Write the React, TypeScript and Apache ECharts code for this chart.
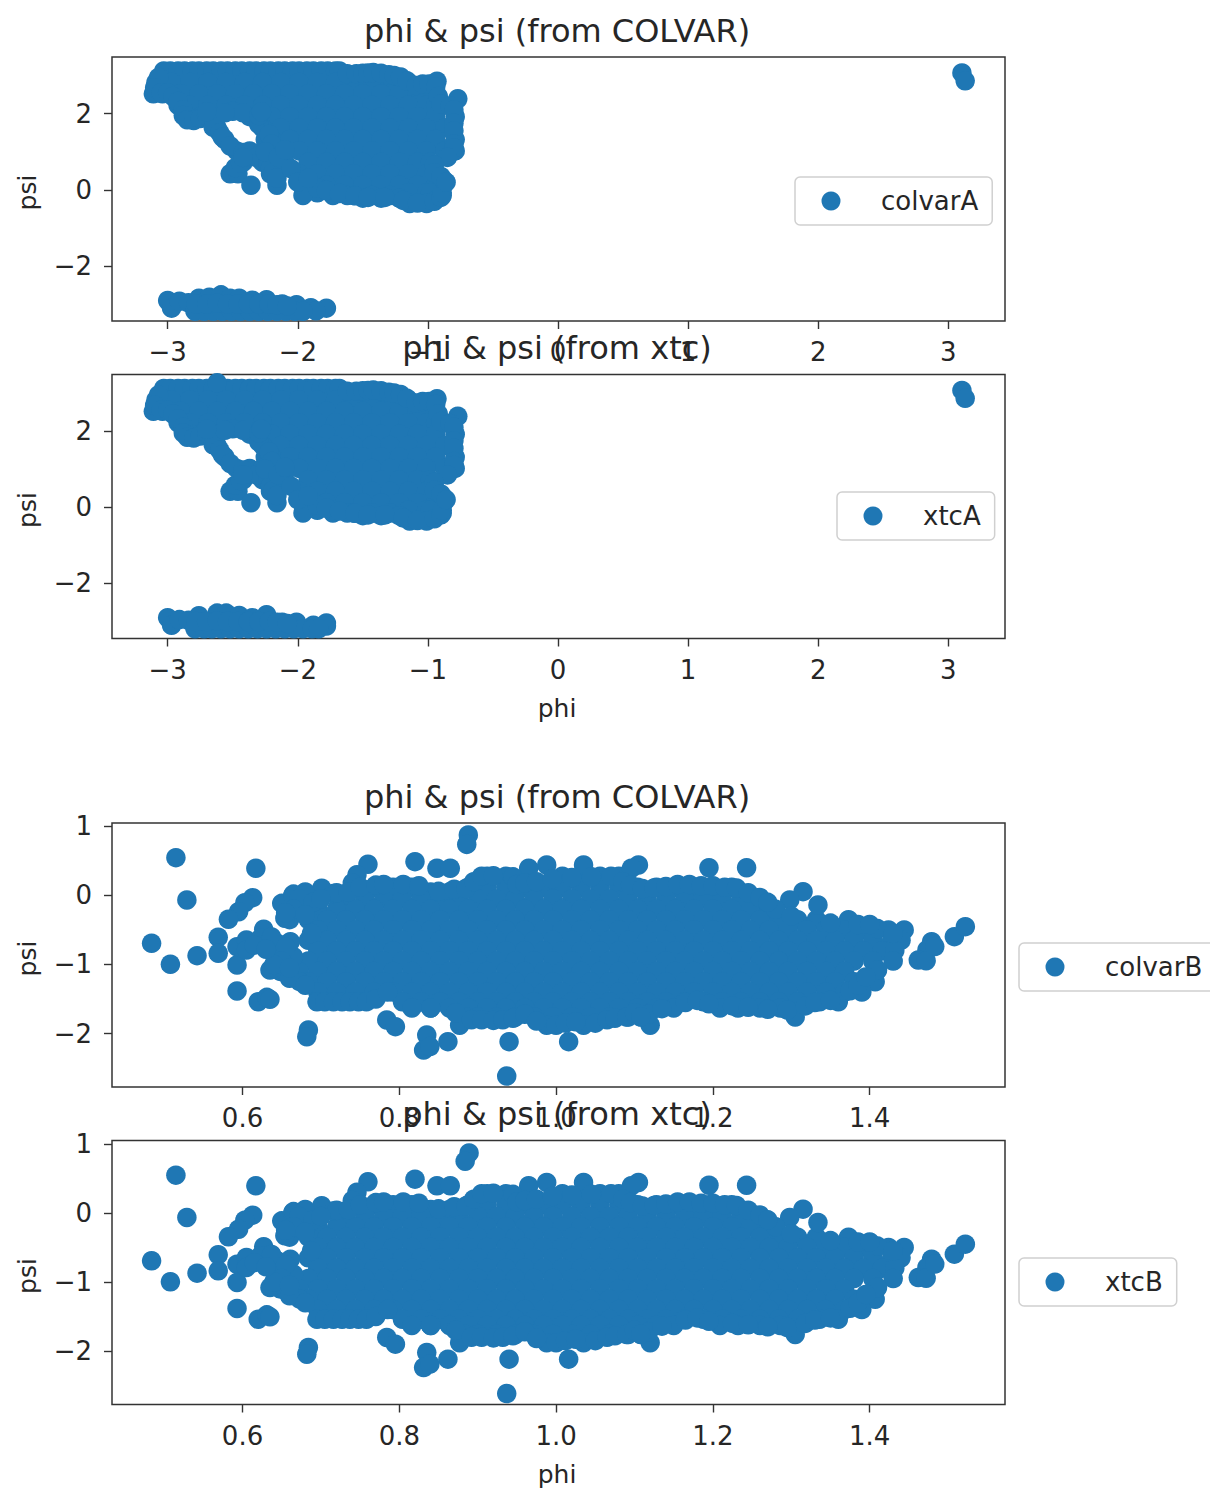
import React, { useEffect, useRef } from "react";
import * as echarts from "echarts";

type Row = [number, number[]];
type Pt = [number, number];

const titles = ["phi & psi (from COLVAR)", "phi & psi (from xtc)", "phi & psi (from COLVAR)", "phi & psi (from xtc)"];
const seriesNames = ["colvarA", "xtcA", "colvarB", "xtcB"];
const phiTicksA = [-3, -2, -1, 0, 1, 2, 3];
const psiTicksA = [-2, 0, 2];
const phiTicksB = [0.6, 0.8, 1.0, 1.2, 1.4];
const psiTicksB = [-2, -1, 0, 1];

// Main basin of state A, read row by row: [psi, phi values]
const rowsA: Row[] = [
  [3.12, [-3.03, -2.98, -2.92, -2.87, -2.81, -2.76, -2.7, -2.65, -2.59, -2.54, -2.48, -2.43, -2.37, -2.32, -2.26, -2.21, -2.15, -2.1, -2.04, -1.99, -1.93, -1.88, -1.82, -1.77, -1.71, -1.68]],
  [2.82, [-3.09, -2.97, -2.83, -2.69, -2.55, -2.41, -2.27, -2.13, -1.99, -1.85, -1.71, -1.57, -1.43, -1.29, -1.15]],
  [2.52, [-3.11, -3.04, -2.9, -2.76, -2.62, -2.48, -2.34, -2.2, -2.06, -1.92, -1.78, -1.64, -1.5, -1.36, -1.22, -1.08, -0.94]],
  [2.22, [-2.92, -2.83, -2.69, -2.55, -2.41, -2.27, -2.13, -1.99, -1.85, -1.71, -1.57, -1.43, -1.29, -1.15, -1.01, -0.94]],
  [1.92, [-2.85, -2.75, -2.62, -2.37, -2.2, -2.06, -1.92, -1.78, -1.64, -1.5, -1.36, -1.22, -1.08, -0.94, -0.79]],
  [1.62, [-2.62, -2.27, -2.13, -1.99, -1.85, -1.71, -1.57, -1.43, -1.29, -1.15, -1.01, -0.87]],
  [1.32, [-2.56, -2.25, -2.2, -2.06, -1.92, -1.78, -1.64, -1.5, -1.36, -1.22, -1.08, -0.94, -0.79]],
  [1.02, [-2.47, -2.37, -2.27, -2.13, -1.99, -1.85, -1.71, -1.57, -1.43, -1.29, -1.15, -1.01, -0.87, -0.79]],
  [0.72, [-2.42, -2.27, -2.1, -1.92, -1.78, -1.64, -1.5, -1.36, -1.22, -1.08, -0.98]],
  [0.42, [-2.52, -2.46, -2.21, -1.99, -1.85, -1.71, -1.57, -1.43, -1.29, -1.15, -1.01]],
  [0.12, [-2.36, -2.16, -1.97, -1.92, -1.78, -1.64, -1.5, -1.36, -1.22, -1.08, -0.94, -0.88]],
  [-0.08, [-1.85, -1.15, -1.01, -0.98]],
  [-0.15, [-1.96, -1.73, -1.62, -1.57, -1.43, -1.29, -0.89]],
  [-0.22, [-1.5, -1.36, -1.22]],
  [-0.36, [-1.14, -1.01]],
];
const extraTopA: Pt[] = [[-1.62, 3.05], [-1.55, 3.05], [-1.5, 3.06], [-1.46, 3.07], [-1.42, 3.08], [-1.36, 3.06], [-1.3, 3.02], [-1.26, 3], [-1.21, 2.96], [-1.16, 2.86], [-1.09, 2.74], [-1.04, 2.78], [-0.99, 2.78], [-0.93, 2.85], [-0.77, 2.39]];
const edgeLeftA: Pt[] = [[-3.07, 2.95], [-3.1, 2.68], [-3.05, 2.55], [-3, 2.55], [-2.96, 2.45], [-2.92, 2.32], [-2.88, 2.1], [-2.88, 1.95], [-2.85, 1.84], [-2.8, 1.82], [-2.75, 1.87], [-2.7, 1.95], [-2.65, 1.64], [-2.64, 1.78], [-2.6, 1.5], [-2.58, 1.38], [-2.52, 1.15], [-2.42, 0.98], [-2.32, 0.85], [-2.23, 0.7], [-2.21, 0.57], [-2.19, 0.45], [-2.16, 0.31], [-2.48, 0.58], [-2.44, 0.7], [-2.42, 0.85]];
const fillHoleA: Pt[] = [[-2.5, 2.06], [-2.3, 1.72], [-2.22, 1.45], [-2.2, 1.2], [-2.25, 1], [-2.15, 0.85], [-2.05, 0.55], [-2.1, 1.05], [-2.42, 2.02], [-2.56, 2.02], [-2.7, 2.05], [-2.3, 1.95], [-2.28, 2.05], [-2, 0.2], [-1.85, 0.05], [-1.92, 0.3]];
const edgeBottomA: Pt[] = [[-1.78, -0.02], [-1.68, -0.1], [-1.56, -0.16], [-1.46, -0.2], [-1.33, -0.2], [-1.19, -0.28], [-1.08, -0.35], [-0.95, -0.3], [-0.9, -0.2], [-0.89, -0.08]];
const edgeRightA: Pt[] = [[-0.94, 2.7], [-0.92, 2.45], [-0.9, 2.25], [-0.83, 2.2], [-0.8, 2.1], [-0.8, 1.75], [-0.8, 1.55], [-0.8, 1.2], [-0.8, 1.1], [-0.85, 0.85], [-0.95, 0.65], [-0.95, 0.45], [-0.88, 0.26], [-0.9, 0.35], [-0.86, 0.2]];
const isolatedA: Pt[] = [[3.105, 3.07], [3.13, 2.86]];
const lowerColvarA: Pt[] = [[-3, -2.91], [-2.97, -3.11], [-2.91, -2.93], [-2.84, -2.97], [-2.76, -2.85], [-2.68, -2.82], [-2.59, -2.76], [-2.52, -2.85], [-2.45, -2.85], [-2.35, -2.9], [-2.24, -2.89], [-2.12, -3], [-2.01, -3.02], [-1.9, -3.1], [-1.78, -3.11], [-1.86, -3.18], [-2.79, -3.19], [-2.72, -3.19], [-2.65, -3.19], [-2.58, -3.19], [-2.51, -3.19], [-2.44, -3.19], [-2.37, -3.19], [-2.3, -3.19], [-2.23, -3.19], [-2.16, -3.19], [-2.09, -3.19], [-2.02, -3.19], [-1.96, -3.19], [-2.78, -3], [-2.7, -3], [-2.62, -2.98], [-2.54, -3], [-2.46, -3], [-2.38, -3], [-2.3, -3], [-2.22, -3], [-2.16, -3.02], [-2.08, -3.05]];
const lowerXtcA: Pt[] = [[-3, -2.9], [-2.97, -3.1], [-2.91, -2.95], [-2.84, -2.97], [-2.76, -2.85], [-2.62, -2.78], [-2.55, -2.78], [-2.45, -2.84], [-2.35, -2.9], [-2.24, -2.82], [-2.12, -3.02], [-2.01, -3.02], [-1.88, -3.1], [-1.78, -3.04], [-1.78, -3.12], [-2.79, -3.19], [-2.72, -3.19], [-2.66, -3.19], [-2.59, -3.19], [-2.52, -3.19], [-2.45, -3.19], [-2.38, -3.19], [-2.31, -3.19], [-2.24, -3.19], [-2.17, -3.19], [-2.1, -3.19], [-2.03, -3.19], [-1.96, -3.19], [-1.89, -3.19], [-1.84, -3.19], [-2.78, -3], [-2.7, -3], [-2.62, -2.98], [-2.54, -3], [-2.46, -3], [-2.38, -3], [-2.3, -3], [-2.22, -3], [-2.16, -3.02], [-2.08, -3.05]];
const topXtcA: Pt[] = [[-2.62, 3.27]];

// Main basin of state B, read row by row: [psi, phi values]
const rowsB: Row[] = [
  [0.28, [0.912, 0.936, 1.008, 1.032, 1.056, 1.08]],
  [0.12, [0.768, 0.792, 0.816, 0.888, 0.912, 0.936, 0.96, 0.984, 1.008, 1.032, 1.056, 1.08, 1.104, 1.128, 1.152, 1.176, 1.2, 1.224]],
  [0.05, [0.84, 0.864]],
  [-0.05, [0.732, 0.756, 0.78, 0.804, 0.828, 0.852, 0.876, 0.9, 0.924, 0.948, 0.972, 0.996, 1.02, 1.044, 1.068, 1.092, 1.116, 1.14, 1.164, 1.188, 1.212, 1.236, 1.26]],
  [-0.2, [0.672, 0.696, 0.72, 0.744, 0.768, 0.792, 0.816, 0.84, 0.864, 0.888, 0.912, 0.936, 0.96, 0.984, 1.008, 1.032, 1.056, 1.08, 1.104, 1.128, 1.152, 1.176, 1.2, 1.224, 1.248, 1.272]],
  [-0.35, [0.66, 0.684, 0.708, 0.732, 0.756, 0.78, 0.804, 0.828, 0.852, 0.876, 0.9, 0.924, 0.948, 0.972, 0.996, 1.02, 1.044, 1.068, 1.092, 1.116, 1.14, 1.164, 1.188, 1.212, 1.236, 1.26, 1.284, 1.308, 1.332, 1.373]],
  [-0.5, [0.696, 0.72, 0.744, 0.768, 0.792, 0.816, 0.84, 0.864, 0.888, 0.912, 0.936, 0.96, 0.984, 1.008, 1.032, 1.056, 1.08, 1.104, 1.128, 1.152, 1.176, 1.2, 1.224, 1.248, 1.272, 1.296, 1.32, 1.344, 1.368, 1.396, 1.424, 1.444]],
  [-0.65, [0.684, 0.708, 0.732, 0.756, 0.78, 0.804, 0.828, 0.852, 0.876, 0.9, 0.924, 0.948, 0.972, 0.996, 1.02, 1.044, 1.068, 1.092, 1.116, 1.14, 1.164, 1.188, 1.212, 1.236, 1.26, 1.284, 1.308, 1.332, 1.356, 1.38, 1.404, 1.428, 1.44]],
  [-0.8, [0.696, 0.72, 0.744, 0.768, 0.792, 0.816, 0.84, 0.864, 0.888, 0.912, 0.936, 0.96, 0.984, 1.008, 1.032, 1.056, 1.08, 1.104, 1.128, 1.152, 1.176, 1.2, 1.224, 1.248, 1.272, 1.296, 1.32, 1.344, 1.368, 1.392, 1.416, 1.432]],
  [-0.95, [0.66, 0.684, 0.708, 0.732, 0.756, 0.78, 0.804, 0.828, 0.852, 0.876, 0.9, 0.924, 0.948, 0.972, 0.996, 1.02, 1.044, 1.068, 1.092, 1.116, 1.14, 1.164, 1.188, 1.212, 1.236, 1.26, 1.284, 1.308, 1.332, 1.356, 1.38, 1.404, 1.43]],
  [-1.1, [0.648, 0.672, 0.696, 0.72, 0.744, 0.768, 0.792, 0.816, 0.84, 0.864, 0.888, 0.912, 0.936, 0.96, 0.984, 1.008, 1.032, 1.056, 1.08, 1.104, 1.128, 1.152, 1.176, 1.2, 1.224, 1.248, 1.272, 1.296, 1.32, 1.344, 1.368]],
  [-1.25, [0.684, 0.708, 0.732, 0.756, 0.78, 0.804, 0.828, 0.852, 0.876, 0.9, 0.924, 0.948, 0.972, 0.996, 1.02, 1.044, 1.068, 1.092, 1.116, 1.14, 1.164, 1.188, 1.212, 1.236, 1.26, 1.284, 1.308, 1.332, 1.356, 1.38, 1.407]],
  [-1.4, [0.696, 0.72, 0.744, 0.768, 0.792, 0.816, 0.84, 0.864, 0.888, 0.912, 0.936, 0.96, 0.984, 1.008, 1.032, 1.056, 1.08, 1.104, 1.128, 1.152, 1.176, 1.2, 1.224, 1.248, 1.272, 1.296, 1.32, 1.344, 1.368, 1.39]],
  [-1.54, [0.695, 0.705, 0.716, 0.727, 0.737, 0.748, 0.758, 0.804, 0.828, 0.852, 0.876, 0.9, 0.924, 0.948, 0.972, 0.996, 1.02, 1.044, 1.068, 1.092, 1.116, 1.14, 1.164, 1.188, 1.212, 1.236, 1.26, 1.284, 1.308, 1.336, 1.36]],
  [-1.63, [0.816, 0.84, 0.864, 0.888, 0.912, 0.936, 0.96, 0.984, 1.008, 1.032, 1.056, 1.08, 1.104, 1.128, 1.15, 1.209, 1.232, 1.26, 1.286]],
  [-1.76, [0.885, 0.9, 0.924, 0.948, 0.972, 0.996, 1.02, 1.044, 1.068, 1.092, 1.108, 1.305]],
  [-1.88, [0.877, 0.988, 1.035, 1.12]],
];
const outlineUpperB: Pt[] = [[0.515, 0.548], [0.529, -0.065], [0.617, 0.394], [0.613, -0.032], [0.603, -0.104], [0.595, -0.235], [0.582, -0.345], [0.65, -0.114], [0.664, 0], [0.654, -0.33], [0.701, 0.104], [0.716, 0.03], [0.76, 0.452], [0.746, 0.3], [0.74, 0.18], [0.82, 0.49], [0.848, 0.394], [0.865, 0.394], [0.965, 0.394], [0.988, 0.442], [1.035, 0.442], [1.105, 0.442], [1.096, 0.394], [1.195, 0.402], [1.243, 0.402], [1.315, 0.055], [1.298, -0.065], [1.334, -0.138], [1.28, -0.2], [1.3, -0.3]];
const envelopeTopB: Pt[] = [[0.665, 0.02], [0.68, 0.05], [0.72, 0.04], [0.735, 0.05], [0.75, 0.12], [0.77, 0.15], [0.78, 0.16], [0.805, 0.16], [0.825, 0.14], [0.85, 0.06], [0.87, 0.09], [0.885, 0.1], [0.895, 0.2], [0.905, 0.28], [0.92, 0.285], [0.945, 0.27], [0.95, 0.16], [0.96, 0.18], [0.975, 0.2], [0.995, 0.24], [1.02, 0.26], [1.045, 0.27], [1.07, 0.28], [1.085, 0.2], [1.095, 0.15], [1.11, 0.1], [1.125, 0.11], [1.14, 0.13], [1.155, 0.16], [1.17, 0.16], [1.185, 0.14], [1.2, 0.14], [1.215, 0.12], [1.23, 0.11], [1.245, 0.04], [1.26, -0.03], [1.27, -0.1], [1.35, -0.4], [1.385, -0.42], [1.41, -0.48], [1.43, -0.55]];
const envelopeBottomB: Pt[] = [[0.77, -1.5], [0.785, -1.4], [0.84, -1.63], [0.872, -1.7], [0.892, -1.8], [0.905, -1.8], [0.92, -1.81], [0.932, -1.8], [0.945, -1.78], [0.96, -1.72], [0.975, -1.82], [1, -1.88], [1.012, -1.85], [1.025, -1.83], [1.05, -1.85], [1.065, -1.8], [1.075, -1.78], [1.09, -1.76], [1.1, -1.7], [1.118, -1.72], [1.135, -1.64], [1.165, -1.55], [1.18, -1.52], [1.195, -1.57], [1.225, -1.6], [1.245, -1.62], [1.27, -1.65], [1.295, -1.66], [1.318, -1.6], [1.33, -1.55], [1.35, -1.52], [1.375, -1.38], [1.385, -1.3]];
const outlineLeftB: Pt[] = [[0.484, -0.693], [0.508, -0.997], [0.542, -0.872], [0.569, -0.606], [0.569, -0.838], [0.593, -1.007], [0.593, -1.384], [0.62, -1.539], [0.631, -1.476], [0.635, -1.505], [0.593, -0.742], [0.605, -0.645], [0.605, -0.79], [0.627, -0.49], [0.623, -0.62], [0.644, -0.693], [0.647, -0.838], [0.635, -1.08], [0.656, -1.128], [0.673, -1.249], [0.688, -0.55], [0.665, -0.887], [0.661, -0.67]];
const fillLeftB: Pt[] = [[0.672, -0.05], [0.69, -0.1], [0.7, -0.05], [0.665, -0.2], [0.655, -0.25], [0.68, -0.28], [0.637, -0.6], [0.655, -0.75], [0.65, -0.95], [0.64, -1], [0.66, -1.2], [0.66, -1.05], [0.68, -1.3], [0.615, -0.72], [0.63, -0.78]];
const outlineLowerB: Pt[] = [[0.684, -1.949], [0.682, -2.046], [0.784, -1.804], [0.795, -1.901], [0.835, -2.022], [0.831, -2.239], [0.839, -2.19], [0.862, -2.118], [0.94, -2.118], [0.937, -2.616], [1.016, -2.118], [1.108, -1.757]];
const outlineRightB: Pt[] = [[1.479, -0.67], [1.473, -0.79], [1.462, -0.935], [1.472, -0.945], [1.483, -0.74], [1.508, -0.597], [1.522, -0.452], [1.4, -0.42], [1.41, -1.08], [1.395, -1.18]];
const tipColvarB: Pt[] = [[0.888, 0.877], [0.886, 0.74]];
const tipXtcB: Pt[] = [[0.889, 0.87], [0.884, 0.75]];

const flatten = (rows: Row[]): Pt[] => rows.flatMap(([psi, phis]) => phis.map((phi): Pt => [phi, psi]));

const coreA = [...flatten(rowsA), ...extraTopA, ...edgeLeftA, ...fillHoleA, ...edgeBottomA, ...edgeRightA, ...isolatedA];
const coreB = [...flatten(rowsB), ...outlineUpperB, ...envelopeTopB, ...envelopeBottomB, ...outlineLeftB, ...fillLeftB, ...outlineLowerB, ...outlineRightB];
const dataSets: Pt[][] = [
  [...coreA, ...lowerColvarA],
  [...coreA, ...topXtcA, ...lowerXtcA],
  [...coreB, ...tipColvarB],
  [...coreB, ...tipXtcB],
];

const FONT = "DejaVu Sans";
const INK = "#262626";
const tops = [57, 374.5, 823, 1140.5];
const titleTops = [15, 332, 781, 1098];
const legendPos = [
  { left: 795, top: 177 },
  { left: 837, top: 492 },
  { left: 1019, top: 943 },
  { left: 1019, top: 1258 },
];

const tickText = (v: number, digits: number) => v.toFixed(digits).replace("-", "\u2212");

export default function App() {
  const ref = useRef<HTMLDivElement>(null);
  useEffect(() => {
    const chart = echarts.init(ref.current!, undefined, { renderer: "svg" });
    const isA = (i: number) => i < 2;
    chart.setOption({
      animation: false,
      backgroundColor: "#fff",
      title: titles.map((text, i) => ({
        text,
        left: 557,
        top: titleTops[i],
        textAlign: "center",
        padding: 0,
        z: 10,
        textStyle: { fontFamily: FONT, fontSize: 32, fontWeight: "normal", color: INK },
      })),
      legend: seriesNames.map((name, i) => ({
        data: [name],
        left: legendPos[i].left,
        top: legendPos[i].top,
        orient: "horizontal",
        padding: [11, 14, 11, 26.5],
        itemWidth: 90,
        itemHeight: 19,
        itemGap: 0,
        icon: "circle",
        selectedMode: false,
        backgroundColor: "rgba(255,255,255,0.85)",
        borderColor: "#d0d0d0",
        borderWidth: 1.5,
        borderRadius: 5,
        textStyle: { fontFamily: FONT, fontSize: 26, color: INK },
      })),
      grid: tops.map((top) => ({
        left: 112,
        top,
        width: 893,
        height: 264,
        show: true,
        backgroundColor: "#fff",
        borderColor: "#333",
        borderWidth: 1.5,
      })),
      xAxis: tops.map((_, i) => {
        const ticks = isA(i) ? phiTicksA : phiTicksB;
        const named = i % 2 === 1;
        return {
          type: "value",
          gridIndex: i,
          min: isA(i) ? -3.428 : 0.4335,
          max: isA(i) ? 3.436 : 1.5726,
          name: named ? "phi" : "",
          nameLocation: "middle",
          nameGap: 57,
          nameTextStyle: { fontFamily: FONT, fontSize: 25, color: INK, padding: [0, 3, 0, 0] },
          splitLine: { show: false },
          axisLine: { show: false, onZero: false },
          axisTick: { show: true, length: 8, customValues: ticks, lineStyle: { color: "#333", width: 1.4 } },
          axisLabel: {
            customValues: ticks,
            margin: 18,
            fontFamily: FONT,
            fontSize: 26,
            color: INK,
            formatter: (v: number) => tickText(v, isA(i) ? 0 : 1),
          },
        };
      }),
      yAxis: tops.map((_, i) => {
        const ticks = isA(i) ? psiTicksA : psiTicksB;
        return {
          type: "value",
          gridIndex: i,
          min: isA(i) ? -3.447 : -2.775,
          max: isA(i) ? 3.487 : 1.05,
          name: "psi",
          nameLocation: "middle",
          nameRotate: 90,
          nameGap: 72,
          nameTextStyle: { fontFamily: FONT, fontSize: 25, color: INK, padding: [0, 7, 0, 0] },
          splitLine: { show: false },
          axisLine: { show: false, onZero: false },
          axisTick: { show: true, length: 8, customValues: ticks, lineStyle: { color: "#333", width: 1.4 } },
          axisLabel: {
            customValues: ticks,
            margin: 20,
            fontFamily: FONT,
            fontSize: 26,
            color: INK,
            formatter: (v: number) => tickText(v, 0),
          },
        };
      }),
      series: seriesNames.map((name, i) => ({
        name,
        type: "scatter",
        xAxisIndex: i,
        yAxisIndex: i,
        data: dataSets[i],
        symbol: "circle",
        symbolSize: 19.5,
        itemStyle: { color: "#1f77b4", opacity: 1 },
        emphasis: { disabled: true },
        silent: true,
      })),
    });
    return () => chart.dispose();
  }, []);
  return (
    <div
      ref={ref}
      style={{ position: "absolute", left: 0, top: 0, width: 1210, height: 1490 }}
    />
  );
}
